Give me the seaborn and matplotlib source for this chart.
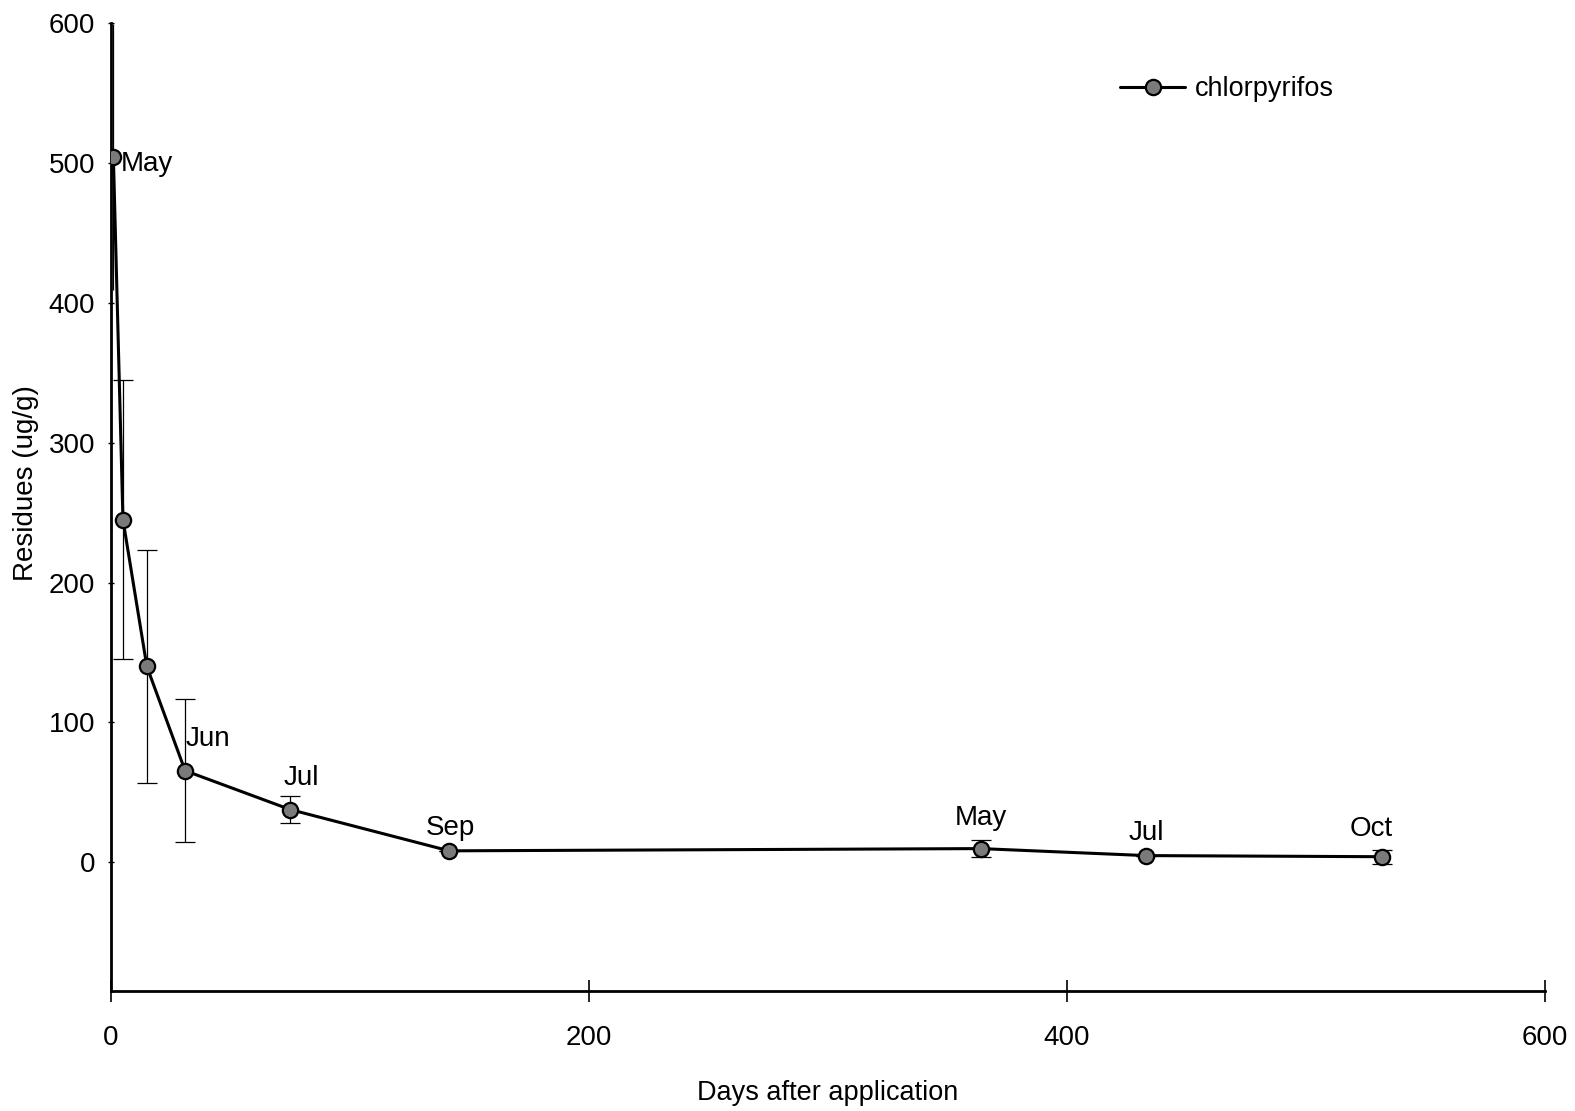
import matplotlib
matplotlib.use("Agg")
import matplotlib.pyplot as plt
import seaborn as sns
import pandas as pd

# Chlorpyrifos residues measured after application
days = [1, 5, 15, 31, 75, 141.5, 364, 433, 532]
residues = [504, 245, 140, 65.5, 37.7, 8.2, 9.8, 4.8, 4.0]
errors = [95, 100, 83, 51, 9.5, 0, 6, 0, 5]
months = ["May", "", "", "Jun", "Jul", "Sep", "May", "Jul", "Oct"]

x_ticks = [0, 200, 400, 600]
y_ticks = [0, 100, 200, 300, 400, 500, 600]

df = pd.DataFrame({"day": days, "residue": residues, "err": errors, "month": months})

sns.set_style("ticks")
plt.rcParams["font.family"] = ["Liberation Sans", "DejaVu Sans"]
plt.rcParams["text.color"] = "black"
plt.rcParams["axes.labelcolor"] = "black"

fig = plt.figure(figsize=(15.75, 11.11), dpi=100)
ax = fig.add_axes([111 / 1575, 1 - 991 / 1111, 1434 / 1575, 968 / 1111])

# the first sample's bar runs along the y axis, drawn without caps
first = df.iloc[:1]
rest = df.iloc[1:]
ax.errorbar(first["day"], first["residue"], yerr=first["err"], fmt="none",
            ecolor="black", elinewidth=0.9, capsize=0, zorder=2)
ax.errorbar(rest["day"], rest["residue"], yerr=rest["err"], fmt="none",
            ecolor="black", elinewidth=0.9, capsize=7.5, capthick=0.9, zorder=2)

sns.lineplot(data=df, x="day", y="residue", ax=ax, color="black", linewidth=2.2,
             marker="o", markersize=11, markerfacecolor="#7a7a7a",
             markeredgecolor="black", markeredgewidth=1.6,
             label="chlorpyrifos", zorder=3, sort=False)

# month annotations: (dx, dy) in points, horizontal alignment
label_style = {
    0: ((5, -4.5), "left"),
    3: ((0.7, 23), "left"),
    4: ((8, 23), "center"),
    5: ((0.7, 16.5), "center"),
    6: ((0, 22), "center"),
    7: ((0, 16), "center"),
    8: ((-8, 20), "center"),
}
for i, ((dx, dy), ha) in label_style.items():
    ax.annotate(df["month"][i], (df["day"][i], df["residue"][i]),
                xytext=(dx, dy), textcoords="offset points",
                ha=ha, va="center", fontsize=20)

ax.set_xlim(0, 600)
ax.set_ylim(-92, 600)
ax.set_xticks(x_ticks)
ax.set_yticks(y_ticks)
ax.tick_params(axis="x", direction="inout", length=16, width=1.2, pad=16.5,
               labelsize=20, colors="black")
ax.tick_params(axis="y", direction="inout", length=4, width=1.0, pad=9.5,
               labelsize=20, colors="black")

for side in ("top", "right"):
    ax.spines[side].set_visible(False)
for side in ("left", "bottom"):
    ax.spines[side].set_linewidth(2)
    ax.spines[side].set_color("black")

ax.set_xlabel("Days after application", fontsize=19.5, labelpad=21)
ax.set_ylabel("Residues (ug/g)", fontsize=20)
ax.yaxis.set_label_coords(-0.050, 0.525)

handles, labels = ax.get_legend_handles_labels()
ax.legend(handles, labels, loc="upper left",
          bbox_to_anchor=(1120 / 1575, 1 - 76 / 1111), bbox_transform=fig.transFigure,
          frameon=False, borderpad=0, borderaxespad=0,
          handlelength=2.4, handletextpad=0.35, fontsize=19.5)

fig.savefig("out.png", dpi=100, facecolor="white")
